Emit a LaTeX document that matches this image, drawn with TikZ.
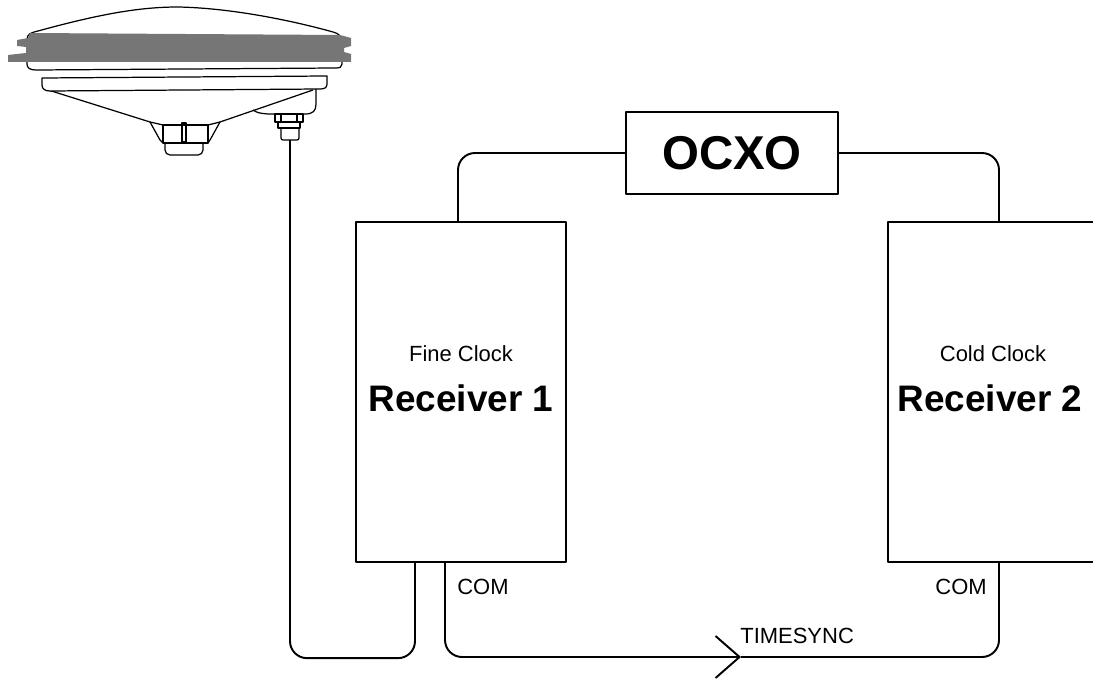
\documentclass[tikz,border=0pt]{standalone}
\usepackage{fontspec}
\setmainfont{Liberation Sans}
\usetikzlibrary{positioning,calc,arrows.meta}
\definecolor{antgray}{RGB}{118,118,118}

\begin{document}
\begin{tikzpicture}[x=0.2mm, y=-0.2mm, line join=round,
        kutija/.style={draw, line width=1.3pt, inner sep=0pt},
        zica/.style={line width=1.1pt, rounded corners=3.4mm},
        sitno/.style={inner sep=0pt, font=\fontsize{12.5}{14}\selectfont},
        veliko/.style={inner sep=0pt, font=\fontsize{21}{24}\selectfont\bfseries}]
        \useasboundingbox (0,0) rectangle (1093,684);

        % antena
        \begin{scope}[line width=0.7pt]
        \draw (45,89) -- (150,122);
        \draw (313,90) -- (220,122);
        \draw[fill=white] (27,40) .. controls (27,34) and (30,33) .. (38,31)
            .. controls (100,14) and (140,7) .. (178,7)
            .. controls (230,8) and (290,20) .. (333,32)
            .. controls (340,34) and (342,37) .. (342,42) -- (342,64)
            .. controls (342,67) and (340,68) .. (336,68) -- (36,70)
            .. controls (30,70) and (27,68) .. (27,64) -- cycle;
        \fill[antgray] (30,33) -- (340,35) -- (351,38) -- (351,46) -- (344,48)
            -- (344,52) -- (351,54) -- (351,62) -- (8,62) -- (8,55) -- (26,53)
            -- (26,47) -- (17,46) -- (17,40) -- (28,38) -- cycle;
        \draw[fill=white] (42,78) -- (327,76) -- (327,84)
            .. controls (327,88) and (324,89) .. (320,89) -- (50,91)
            .. controls (45,91) and (42,89) .. (42,85) -- cycle;
        % konektor kucista
        \draw (253,110) .. controls (258,113) .. (268,114) -- (305,114)
            .. controls (313,114) and (316,111) .. (316,104) -- (316,89);
        % donji nastavak
        \draw (150,122) .. controls (156,123) .. (163,125) -- (208,125)
            .. controls (214,123) .. (220,122);
        \draw (150,122) -- (160,140) -- (163,143);
        \draw (220,122) -- (210,140) -- (208,143);
        \draw (163,125) rectangle (208,143);
        \draw[rounded corners=1mm] (165,143) -- (165,155) -- (203,155) -- (203,143);
        \draw (182,123) rectangle (186,142);
        % RF konektor
        \draw (275,114) rectangle (303,122);
        \draw (281,114) -- (281,122) (297,114) -- (297,122);
        \draw (278,122) rectangle (300,128);
        \draw[rounded corners=0.4mm] (281,128) -- (281,140) -- (299,140) -- (299,128);
        \end{scope}
        \coordinate (ant) at (290,140);

        % blokovi
        \node[kutija, minimum width=42.4mm, minimum height=16.4mm,
            font=\fontsize{27}{30}\selectfont\bfseries] (ocxo) at (732,153) {OCXO};
        \node[kutija, minimum width=42mm, minimum height=68mm] (rx1) at (461,392) {};
        \node[kutija, minimum width=42mm, minimum height=68mm] (rx2) at (993,392) {};

        \node[sitno] (fc) at (461,354) {Fine Clock};
        \node[veliko] (rx1l) at (461,398) {Receiver 1};
        \node[sitno] (cc) at (993,354) {Cold Clock};
        \node[veliko] (rx2l) at (990,398) {Receiver 2};

        % veze
        \draw[zica] (ocxo.west) -| ($(rx1.north)+(-3,0)$);
        \draw[zica] (ocxo.east) -| ($(rx2.north)+(6,0)$);
        \draw[zica] (ant) |- ($(rx1.south)+(-46,95)$) -- ($(rx1.south)+(-46,0)$);

        \coordinate (ts) at (741,657);
        \draw[zica, -{Straight Barb[length=4.8mm, width=8.4mm]}]
            ($(rx1.south)+(-16,0)$) |- (ts);
        \draw[zica] (ts) -| ($(rx2.south)+(6,0)$);

        \node[sitno, anchor=west] (com1) at (457,587) {COM};
        \node[sitno, anchor=east] (com2) at (987,587) {COM};
        \node[sitno, anchor=base west] (tsl) at (740,643) {TIMESYNC};
    \end{tikzpicture}
\end{document}
